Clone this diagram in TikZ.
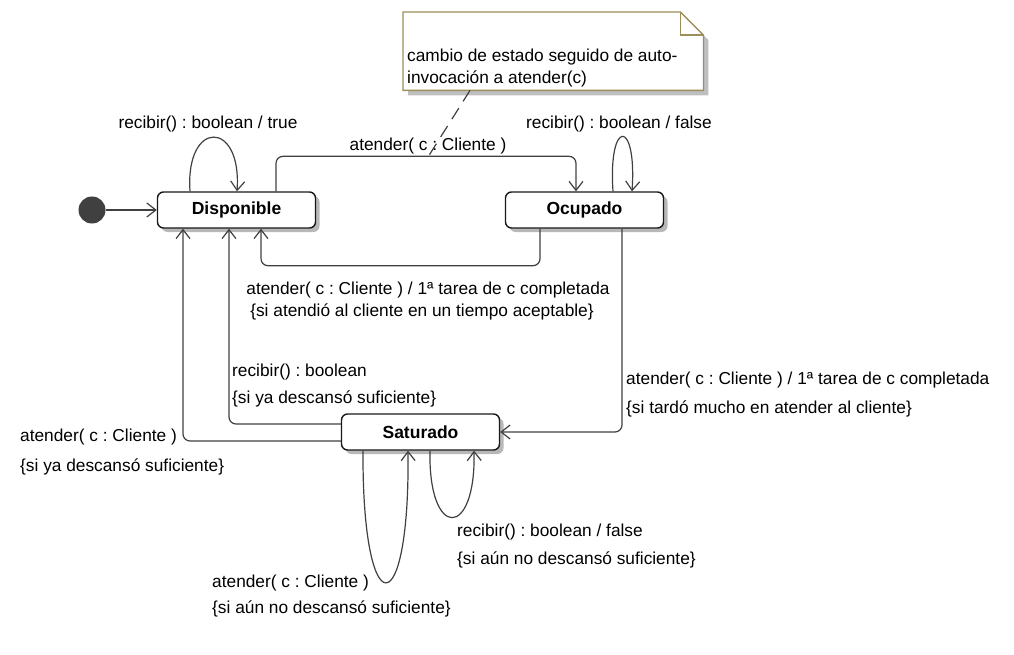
\documentclass[tikz,border=0pt]{standalone}
\usepackage{fontspec}
\setmainfont{Liberation Sans}
\frenchspacing
\usetikzlibrary{arrows.meta,shadows,calc}
\definecolor{linec}{HTML}{404040}
\definecolor{notec}{HTML}{9C8F5A}
\begin{document}
\begin{tikzpicture}[x=1pt,y=-1pt,
  every node/.style={font=\fontsize{17.3}{21}\selectfont, inner sep=0pt},
  statebox/.style={draw=black!90, line width=1.4pt, rounded corners=6pt, fill=white,
    minimum width=158pt, minimum height=36pt, font=\fontsize{17.5}{21}\selectfont\bfseries,
    drop shadow={shadow xshift=4pt, shadow yshift=-4pt, fill=black!28, opacity=1}},
  tr/.style={draw=linec, line width=1.2pt, rounded corners=7pt,
    -{Straight Barb[length=9pt,width=14pt,line width=1.2pt]}},
  lbl/.style={anchor=center},
  lbw/.style={anchor=west}]
\useasboundingbox (0,0) rectangle (1014,655);

% states
\node[statebox] (disp) at (236.5,210) {Disponible};
\node[statebox] (ocup) at (584.5,210) {Ocupado};
\node[statebox] (satu) at (420.5,432) {Saturado};
\node[circle, fill=black!75, minimum size=27pt] (init) at (92,210) {};

% note
\node[anchor=north west, minimum width=300pt, minimum height=78pt] (note) at (403,12) {};
\fill[black!25] ($(note.north east)+(5,28)$) -- ($(note.south east)+(5,5)$) -- ($(note.south west)+(5,5)$) -- ($(note.south west)+(5,0)$) -- (note.south east) -- ($(note.north east)+(0,23)$) -- cycle;
\draw[notec, line width=1.3pt, fill=white] (note.north west) -- ($(note.north east)+(-23,0)$) -- ($(note.north east)+(0,23)$) -- (note.south east) -- (note.south west) -- cycle;
\draw[notec, line width=1.3pt] ($(note.north east)+(-23,0)$) -- ($(note.north east)+(-23,23)$) -- ($(note.north east)+(0,23)$);
\node[anchor=west, align=left, font=\fontsize{17.3}{22}\selectfont] (notetxt) at (407,68) {cambio de estado seguido de auto-\\invocación a atender(c)};

% transitions
\draw[tr] (init) -- (disp.west);
\draw[tr] ([xshift=-46.5pt]disp.north) .. controls ([xshift=-51.5pt,yshift=72pt]disp.north) and ([xshift=5.5pt,yshift=72pt]disp.north) .. ([xshift=0.5pt]disp.north);
\node[lbl] (l1) at (208,124) {recibir() : boolean / true};

\draw[tr] ([xshift=39.5pt]disp.north) |- ([xshift=-8.5pt,yshift=35pt]ocup.north) -- ([xshift=-8.5pt]ocup.north);
\node[lbl] (l2) at (428,146) {atender( c : Cliente )};
\coordinate (noteend) at (428,157);

\draw[tr] ([xshift=28.5pt]ocup.north) .. controls ([xshift=23.5pt,yshift=73pt]ocup.north) and ([xshift=52.5pt,yshift=73pt]ocup.north) .. ([xshift=47.5pt]ocup.north);
\node[lbl] (l3) at (619,124) {recibir() : boolean / false};

\draw[linec, line width=1.2pt, dash pattern=on 13pt off 8pt] ($(note.south west)+(67,0)$) -- (noteend);

\draw[tr] ([xshift=-44.5pt]ocup.south) |- ([xshift=24.5pt,yshift=-37pt]disp.south) -- ([xshift=24.5pt]disp.south);
\node[lbl] (l4) at (428,290) {atender( c : Cliente ) / 1ª tarea de c completada};
\node[lbl] (l4b) at (422,312) {\{si atendió al cliente en un tiempo aceptable\}};

\draw[tr] ([xshift=37.5pt]ocup.south) |- (satu.east);
\node[lbw] (l5) at (626,380) {atender( c : Cliente ) / 1ª tarea de c completada};
\node[lbw] (l5b) at (626,409) {\{si tardó mucho en atender al cliente\}};

\draw[tr] ([yshift=8pt]satu.west) -| ([xshift=-7.5pt]disp.south);
\node[lbw] (l6) at (232,372) {recibir() : boolean};
\node[lbw] (l6b) at (232,399) {\{si ya descansó suficiente\}};

\draw[tr] ([yshift=-9pt]satu.west) -| ([xshift=-53.5pt]disp.south);
\node[lbw] (l7) at (20,437) {atender( c : Cliente )};
\node[lbw] (l7b) at (20,467) {\{si ya descansó suficiente\}};

\draw[tr] ([xshift=-57.5pt]satu.south) .. controls ([xshift=-58.5pt,yshift=-176pt]satu.south) and ([xshift=-10.5pt,yshift=-176pt]satu.south) .. ([xshift=-12.5pt]satu.south);
\node[lbw] (l8) at (212,583) {atender( c : Cliente )};
\node[lbw] (l8b) at (212,609) {\{si aún no descansó suficiente\}};

\draw[tr] ([xshift=9.5pt]satu.south) .. controls ([xshift=7.5pt,yshift=-89pt]satu.south) and ([xshift=55.5pt,yshift=-89pt]satu.south) .. ([xshift=53.5pt]satu.south);
\node[lbw] (l9) at (457,532) {recibir() : boolean / false};
\node[lbw] (l9b) at (457,560) {\{si aún no descansó suficiente\}};
\end{tikzpicture}
\end{document}
